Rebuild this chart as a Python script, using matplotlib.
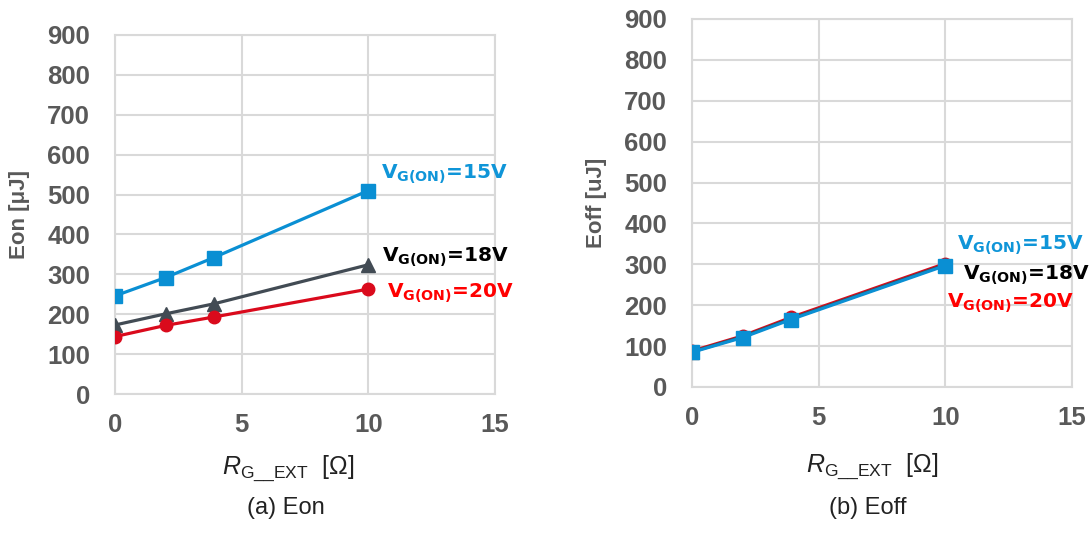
import matplotlib
matplotlib.use("Agg")
import matplotlib.pyplot as plt

plt.rcParams['font.family'] = ['Liberation Sans', 'DejaVu Sans']
plt.rcParams['mathtext.fontset'] = 'custom'
plt.rcParams['mathtext.rm'] = 'Liberation Sans'
plt.rcParams['mathtext.it'] = 'Liberation Sans:italic'
plt.rcParams['mathtext.bf'] = 'DejaVu Sans:bold'

# data
rg = [0, 2, 3.9, 10]
eon_15 = [246, 292, 342, 510]
eon_18 = [173, 201, 226, 324]
eon_20 = [144, 172, 193, 263]
eoff_15 = [85, 121, 165, 297]
eoff_18 = [86, 123, 167, 299]
eoff_20 = [88, 125, 170, 302]
xticks = [0, 5, 10, 15]
yticks = [0, 100, 200, 300, 400, 500, 600, 700, 800, 900]

BLUE = '#0A8FD3'
GRAY = '#424B54'
RED = '#DA0A1C'
GRID = '#D9D9D9'
TICK = '#595959'

fig = plt.figure(figsize=(10.91, 5.58), dpi=100)
ax1 = fig.add_axes([115/1091, 164/558, 380/1091, 359/558])
ax2 = fig.add_axes([692/1091, 171/558, 380/1091, 368/558])


def style(ax, ylabel):
    ax.set_xlim(0, 15)
    ax.set_ylim(0, 900)
    ax.set_xticks(xticks)
    ax.set_yticks(yticks)
    ax.grid(True, color=GRID, linewidth=1.5)
    ax.set_axisbelow(True)
    for s in ax.spines.values():
        s.set_color(GRID)
        s.set_linewidth(1.5)
    ax.tick_params(length=0, labelsize=18.5, labelcolor=TICK)
    ax.tick_params(axis='x', pad=14)
    ax.tick_params(axis='y', pad=18)
    for lab in ax.get_xticklabels() + ax.get_yticklabels():
        lab.set_fontweight('bold')
    ax.set_ylabel(ylabel, fontsize=16, fontweight='bold', color=TICK, labelpad=12)
    ax.set_xlabel(r'$R_{\rm G\_\_EXT}$  [Ω]', fontsize=18, color='#222222')


style(ax1, 'Eon [μJ]')
style(ax2, 'Eoff [uJ]')
ax1.xaxis.set_label_coords(0.455, -0.165)
ax2.xaxis.set_label_coords(0.475, -0.175)

ax1.plot(rg, eon_15, color=BLUE, lw=2.3, marker='s', ms=9.5, zorder=3)
ax1.plot(rg, eon_18, color=GRAY, lw=2.3, marker='^', ms=10, zorder=3)
ax1.plot(rg, eon_20, color=RED, lw=2.3, marker='o', ms=9, zorder=3)

ax2.plot(rg, eoff_20, color=RED, lw=2.3, marker='o', ms=9, zorder=3)
ax2.plot(rg, eoff_18, color=GRAY, lw=2.3, marker='^', ms=10, zorder=3)
ax2.plot(rg, eoff_15, color=BLUE, lw=2.3, marker='s', ms=9.5, zorder=3)


def vlabel(ax, x, y, volts, color):
    ax.text(x, y, r'V$_{\mathbf{G(ON)}}$=' + volts, color=color, fontsize=14.5,
            family=['DejaVu Sans'], fontweight='bold',
            ha='left', va='center', clip_on=False)


vlabel(ax1, 10.5, 551, '15V', '#0F95D8')
vlabel(ax1, 10.54, 343, '18V', 'black')
vlabel(ax1, 10.73, 251, '20V', '#FF0000')
vlabel(ax2, 10.46, 347, '15V', '#0F95D8')
vlabel(ax2, 10.7, 274, '18V', 'black')
vlabel(ax2, 10.07, 205, '20V', '#FF0000')

fig.text(286/1091, 1 - 508/558, '(a) Eon', fontsize=17, color='#222222', ha='center', va='center')
fig.text(868/1091, 1 - 508/558, '(b) Eoff', fontsize=17, color='#222222', ha='center', va='center')

fig.savefig('out.png', dpi=100)
